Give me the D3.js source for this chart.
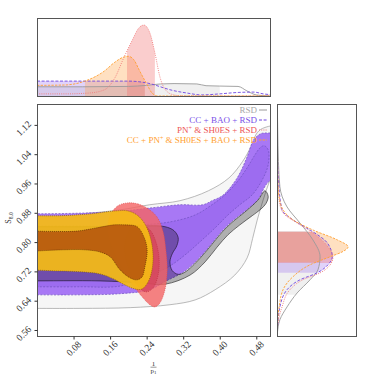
<!DOCTYPE html>
<html>
<head>
<meta charset="utf-8">
<script src="https://cdn.jsdelivr.net/npm/d3@7"></script>
<style>
  body { margin: 0; background: #fff; }
  svg text { font-family: "Liberation Serif", "DejaVu Serif", serif; }
</style>
</head>
<body>
<svg id="chart" width="374" height="374"></svg>
<script>
// ---- data ----
var xTicks = [0.08, 0.16, 0.24, 0.32, 0.40, 0.48];
var yTicks = [0.56, 0.64, 0.72, 0.80, 0.88, 0.96, 1.04, 1.12];
var legendLabels = ["RSD", "CC + BAO + RSD", "PN⁺ & SH0ES + RSD", "CC + PN⁺ & SH0ES + BAO + RSD"];

// 2D contours, [1/p1, S8,0]; points left of 0 only close the shapes outside the frame
var rsdOuter = [[-0.08,0.87],[-0.02,0.87],[0.094,0.877],[0.182,0.888],[0.247,0.902],[0.313,0.913],[0.375,0.94],
  [0.42,0.975],[0.45,1.02],[0.468,1.06],[0.48,1.095],[0.493,1.11],[0.53,1.115],[0.53,1.03],[0.51,0.97],
  [0.495,0.915],[0.482,0.86],[0.472,0.81],[0.46,0.757],[0.433,0.71],[0.39,0.67],[0.346,0.642],[0.291,0.629],
  [0.204,0.621],[0.094,0.619],[-0.02,0.619],[-0.08,0.619]];
var rsdInner = [[-0.08,0.842],[-0.02,0.842],[0.138,0.842],[0.2255,0.844],[0.28,0.842],[0.3,0.831],[0.309,0.812],
  [0.306,0.79],[0.296,0.768],[0.291,0.746],[0.296,0.722],[0.309,0.712],[0.324,0.718],[0.357,0.756],[0.383,0.794],
  [0.405,0.827],[0.427,0.854],[0.455,0.882],[0.484,0.915],[0.499,0.94],[0.506,0.925],[0.501,0.905],[0.49,0.89],
  [0.471,0.872],[0.444,0.847],[0.418,0.82],[0.394,0.786],[0.368,0.746],[0.335,0.71],[0.28,0.685],[0.2255,0.689],
  [0.138,0.694],[-0.02,0.694],[-0.08,0.694]];
var ccOuter = [[-0.08,0.877],[-0.02,0.877],[0.094,0.879],[0.182,0.884],[0.247,0.893],[0.313,0.902],[0.363,0.902],
  [0.383,0.913],[0.407,0.928],[0.438,0.975],[0.46,1.033],[0.473,1.076],[0.488,1.095],[0.499,1.098],[0.53,1.09],
  [0.53,0.997],[0.501,0.956],[0.484,0.917],[0.455,0.884],[0.427,0.857],[0.405,0.83],[0.383,0.797],[0.357,0.759],
  [0.324,0.721],[0.28,0.692],[0.247,0.67],[0.182,0.659],[0.094,0.656],[-0.02,0.656],[-0.08,0.656]];
var ccInner = [[-0.08,0.844],[-0.02,0.844],[0.138,0.844],[0.2255,0.847],[0.291,0.855],[0.346,0.874],[0.383,0.902],
  [0.4115,0.929],[0.438,0.964],[0.46,1.003],[0.477,1.038],[0.488,1.057],[0.497,1.063],[0.506,1.052],[0.506,1.011],
  [0.493,0.97],[0.471,0.929],[0.444,0.902],[0.418,0.874],[0.39,0.839],[0.357,0.801],[0.324,0.765],[0.291,0.735],
  [0.247,0.708],[0.182,0.68],[0.094,0.678],[-0.02,0.678],[-0.08,0.678]];
var pnOuter = [[0.199,0.907],[0.221,0.904],[0.243,0.891],[0.263,0.868],[0.276,0.828],[0.282,0.779],[0.285,0.724],
  [0.28,0.67],[0.269,0.634],[0.258,0.623],[0.247,0.629],[0.232,0.648],[0.21,0.683],[0.186,0.73],[0.166,0.779],
  [0.155,0.825],[0.16,0.872],[0.177,0.899]];
var pnInner = [[0.2255,0.847],[0.247,0.833],[0.26,0.801],[0.267,0.757],[0.265,0.71],[0.254,0.675],[0.239,0.664],
  [0.221,0.68],[0.204,0.719],[0.193,0.765],[0.195,0.811],[0.208,0.839]];
var allOuter = [[-0.08,0.872],[-0.02,0.872],[0.0503,0.872],[0.116,0.877],[0.1707,0.885],[0.199,0.885],[0.221,0.872],
  [0.2386,0.844],[0.2495,0.806],[0.2539,0.765],[0.2517,0.724],[0.243,0.691],[0.2298,0.672],[0.2145,0.672],
  [0.1926,0.683],[0.1664,0.7],[0.138,0.713],[0.094,0.719],[0.0503,0.721],[-0.02,0.724],[-0.08,0.724]];
var allInner = [[-0.08,0.83],[-0.02,0.83],[0.0438,0.829],[0.0876,0.83],[0.131,0.839],[0.1686,0.847],[0.19,0.847],
  [0.219,0.842],[0.234,0.814],[0.241,0.779],[0.236,0.732],[0.23,0.705],[0.219,0.697],[0.204,0.702],[0.182,0.724],
  [0.16,0.76],[0.138,0.773],[0.103,0.779],[0.059,0.779],[-0.02,0.775],[-0.08,0.775]];

// 1D marginal of 1/p1 (top panel)
var rsdTopX = [0,0.1,0.2,0.24,0.27,0.3,0.35,0.37,0.4,0.44,0.46,0.48,0.51];
var rsdTopV = [0.13,0.13,0.135,0.15,0.17,0.175,0.17,0.145,0.14,0.135,0.07,0.015,0];
var ccTopX = [0,0.1,0.2,0.225,0.25,0.27,0.29,0.33,0.36,0.4,0.44,0.475,0.495,0.51];
var ccTopV = [0.21,0.21,0.21,0.2,0.17,0.13,0.09,0.04,0.015,0.03,0.05,0.055,0.03,0.02];
var pnTopX = [0,0.06,0.11,0.14,0.155,0.17,0.19,0.208,0.223,0.234,0.247,0.258,0.269,0.285,0.3,0.32,0.51];
var pnTopV = [0.03,0.03,0.04,0.07,0.12,0.25,0.54,0.78,0.96,1.0,0.89,0.61,0.27,0.06,0.015,0,0];
var allTopX = [0,0.06,0.109,0.147,0.169,0.19,0.2,0.212,0.225,0.241,0.252,0.265,0.51];
var allTopV = [0.15,0.155,0.22,0.35,0.47,0.55,0.56,0.51,0.35,0.16,0.04,0,0];

// 1D marginal of S8,0 (right panel)
var rsdRightS = [1.17,1.106,1.02,0.951,0.896,0.852,0.806,0.76,0.724,0.697,0.661,0.623,0.588,0.552,0.545];
var rsdRightV = [0.005,0.01,0.02,0.04,0.14,0.32,0.5,0.6,0.57,0.46,0.28,0.14,0.04,0.005,0];
var ccRightS = [1.17,1.05,0.97,0.888,0.861,0.833,0.798,0.76,0.738,0.716,0.697,0.67,0.623,0.574,0.545];
var ccRightV = [0.003,0.005,0.02,0.07,0.22,0.46,0.7,0.77,0.71,0.56,0.32,0.14,0.04,0.01,0];
var pnRightS = [1.17,1.0,0.915,0.88,0.852,0.825,0.787,0.76,0.738,0.716,0.697,0.67,0.623,0.579,0.545];
var pnRightV = [0.002,0.01,0.03,0.084,0.28,0.5,0.71,0.78,0.74,0.6,0.36,0.18,0.07,0.014,0];
var allRightS = [1.17,0.97,0.923,0.888,0.861,0.833,0.806,0.787,0.773,0.76,0.738,0.705,0.67,0.623,0.569,0.545];
var allRightV = [0.002,0.01,0.03,0.084,0.22,0.5,0.84,0.99,0.905,0.74,0.46,0.22,0.084,0.03,0.005,0];

// 68% intervals shaded in the marginals
var topBands = [[0, 0.40], [0, 0.236], [0.197, 0.258], [0.105, 0.236]];
var rightBands = [[0.656, 0.83], [0.716, 0.828], [0.743, 0.828], [0.745, 0.828]];

// ---- drawing ----
var svg = d3.select("#chart");
var serif = '"Liberation Serif", "DejaVu Serif", serif';

var x = d3.scaleLinear().domain([0, 0.51]).range([37, 270]);
var y = d3.scaleLinear().domain([0.5436, 1.177]).range([336, 104]);
var yTop = d3.scaleLinear().domain([0, 1.1]).range([96, 18]);
var xRight = d3.scaleLinear().domain([0, 1.1]).range([277, 356]);

var defs = svg.append("defs");
function clipRect(id, x0, y0, w, h) {
  defs.append("clipPath").attr("id", id).append("rect")
    .attr("x", x0).attr("y", y0).attr("width", w).attr("height", h);
}
clipRect("clipMain", 37, 104, 233, 232);
clipRect("clipTop", 37, 18, 233, 78);
clipRect("clipRight", 277, 104, 79, 232);

// series styles: rsd, cc, pn, all
var lineCol = ["#9a9a9a", "#6f45e0", "#f07a7a", "#ffa032"];
var lineDash = [null, "3,1.6", "1,1.2", "2.4,1.2"];
var bandCol = ["#999999", "#9b6cf0", "#f07070", "#ffa64d"];
var bandOp = [0.15, 0.3, 0.35, 0.35];

// main panel contours (the RSD 1-sigma region darkens whatever lies under it)
var contour = d3.line().x(d => x(d[0])).y(d => y(d[1])).curve(d3.curveCatmullRomClosed.alpha(0.5));
var gMain = svg.append("g").attr("clip-path", "url(#clipMain)");
var layers = [
  {pts: rsdOuter, fill: "#f6f6f6", op: 1, stroke: "#9c9c9c", dash: null, blend: "normal"},
  {pts: ccOuter, fill: "#a878f5", op: 1, stroke: "#7050c0", dash: "2,1.4", blend: "normal"},
  {pts: ccInner, fill: "#9d6cf0", op: 1, stroke: "#7050c0", dash: "2,1.4", blend: "normal"},
  {pts: rsdInner, fill: "#b6b6b6", op: 1, stroke: "#3a3a3a", dash: null, blend: "multiply"},
  {pts: pnOuter, fill: "#f46464", op: 0.8, stroke: "#e04a4a", dash: "1,1", blend: "normal"},
  {pts: pnInner, fill: "#d43c55", op: 0.6, stroke: "#c03040", dash: "1,1", blend: "normal"},
  {pts: allOuter, fill: "#f5bc14", op: 0.92, stroke: "#8a6400", dash: "1,1", blend: "normal"},
  {pts: allInner, fill: "#b85a0e", op: 0.93, stroke: "#5a2e00", dash: "1,1", blend: "normal"}
];
layers.forEach(function (l) {
  gMain.append("path")
    .attr("d", contour(l.pts))
    .attr("fill", l.fill)
    .attr("fill-opacity", l.op)
    .attr("stroke", l.stroke)
    .attr("stroke-width", 0.7)
    .attr("stroke-dasharray", l.dash)
    .style("mix-blend-mode", l.blend);
});

// top panel
var topData = [[rsdTopX, rsdTopV], [ccTopX, ccTopV], [pnTopX, pnTopV], [allTopX, allTopV]]
  .map(s => s[0].map((d, i) => [d, s[1][i]]));
var lineTop = d3.line().x(d => x(d[0])).y(d => yTop(d[1])).curve(d3.curveMonotoneX);
var areaTop = d3.area().x(d => x(d[0])).y0(yTop(0)).y1(d => yTop(d[1])).curve(d3.curveMonotoneX);
var gTop = svg.append("g").attr("clip-path", "url(#clipTop)");
[1, 0, 3, 2].forEach(function (i) {
  clipRect("bandTop" + i, x(topBands[i][0]), 18, x(topBands[i][1]) - x(topBands[i][0]), 78);
  gTop.append("g").attr("clip-path", "url(#bandTop" + i + ")")
    .append("path").attr("d", areaTop(topData[i]))
    .attr("fill", bandCol[i]).attr("fill-opacity", bandOp[i]);
});
[0, 1, 2, 3].forEach(function (i) {
  gTop.append("path").attr("d", lineTop(topData[i]))
    .attr("fill", "none").attr("stroke", lineCol[i]).attr("stroke-width", 0.9)
    .attr("stroke-dasharray", lineDash[i]);
});

// right panel
var rightData = [[rsdRightS, rsdRightV], [ccRightS, ccRightV], [pnRightS, pnRightV], [allRightS, allRightV]]
  .map(s => s[0].map((d, i) => [d, s[1][i]]));
var lineRight = d3.line().x(d => xRight(d[1])).y(d => y(d[0])).curve(d3.curveMonotoneY);
var areaRight = d3.area().y(d => y(d[0])).x0(xRight(0)).x1(d => xRight(d[1])).curve(d3.curveMonotoneY);
var gRight = svg.append("g").attr("clip-path", "url(#clipRight)");
[0, 1, 3, 2].forEach(function (i) {
  clipRect("bandRight" + i, 277, y(rightBands[i][1]), 79, y(rightBands[i][0]) - y(rightBands[i][1]));
  gRight.append("g").attr("clip-path", "url(#bandRight" + i + ")")
    .append("path").attr("d", areaRight(rightData[i]))
    .attr("fill", bandCol[i]).attr("fill-opacity", bandOp[i]);
});
[0, 1, 2, 3].forEach(function (i) {
  gRight.append("path").attr("d", lineRight(rightData[i]))
    .attr("fill", "none").attr("stroke", lineCol[i]).attr("stroke-width", 0.9)
    .attr("stroke-dasharray", lineDash[i]);
});

// frames
[[37, 18, 233, 78], [37, 104, 233, 232], [277, 104, 79, 232]].forEach(function (r) {
  svg.append("rect").attr("x", r[0] + 0.5).attr("y", r[1] + 0.5).attr("width", r[2]).attr("height", r[3])
    .attr("fill", "none").attr("stroke", "#555").attr("stroke-width", 1);
});

// axes
var xAxis = svg.append("g").attr("transform", "translate(0,336.5)")
  .call(d3.axisBottom(x).tickValues(xTicks).tickFormat(d3.format(".2f")).tickSize(3))
  .attr("font-family", serif).attr("font-size", 9.5);
xAxis.select(".domain").remove();
xAxis.selectAll("line").attr("stroke", "#333");
xAxis.selectAll("text").attr("y", null).attr("dy", "0.35em").attr("fill", "#333")
  .attr("transform", "translate(5.5,6) rotate(-45)").style("text-anchor", "end");

var yAxis = svg.append("g").attr("transform", "translate(37.5,0)")
  .call(d3.axisLeft(y).tickValues(yTicks).tickFormat(d3.format(".2f")).tickSize(3))
  .attr("font-family", serif).attr("font-size", 9.5);
yAxis.select(".domain").remove();
yAxis.selectAll("line").attr("stroke", "#333");
yAxis.selectAll("text").attr("x", null).attr("dy", "0.35em").attr("fill", "#333")
  .attr("transform", "translate(-8,-3) rotate(-45)").style("text-anchor", "end");

// axis titles
var yt = svg.append("text").attr("transform", "translate(11,218) rotate(-90)")
  .attr("text-anchor", "middle").attr("font-size", 8).attr("fill", "#333");
yt.append("tspan").text("S");
yt.append("tspan").attr("font-size", 5.5).attr("dy", 2).text("8,0");

svg.append("text").attr("x", 153.5).attr("y", 365.5).attr("text-anchor", "middle")
  .attr("font-size", 7).attr("fill", "#333").text("1");
svg.append("line").attr("x1", 150.5).attr("x2", 156.5).attr("y1", 367.2).attr("y2", 367.2)
  .attr("stroke", "#333").attr("stroke-width", 0.5);
var xt = svg.append("text").attr("x", 153.5).attr("y", 373).attr("text-anchor", "middle")
  .attr("font-size", 7).attr("fill", "#333");
xt.append("tspan").text("p");
xt.append("tspan").attr("font-size", 5).attr("dy", 1).text("1");

// legend
var legendCol = ["#a8a8a8", "#7a50e8", "#ee5555", "#ffa030"];
var legend = svg.append("g").attr("font-size", 9);
legendLabels.forEach(function (lab, i) {
  var ly = 110 + i * 10;
  var t = legend.append("text").attr("x", 257).attr("y", ly + 3).attr("text-anchor", "end")
    .attr("fill", legendCol[i]);
  var parts = lab.split("⁺");
  parts.forEach(function (p, k) {
    var s = t.append("tspan").text(p);
    if (k > 0) s.attr("dy", 3.5);
    if (k < parts.length - 1) {
      t.append("tspan").attr("font-size", 6).attr("dy", -3.5).text("+");
    }
  });
  legend.append("line").attr("x1", 259).attr("x2", 267).attr("y1", ly).attr("y2", ly)
    .attr("stroke", lineCol[i]).attr("stroke-width", 1).attr("stroke-dasharray", lineDash[i]);
});
</script>
</body>
</html>
